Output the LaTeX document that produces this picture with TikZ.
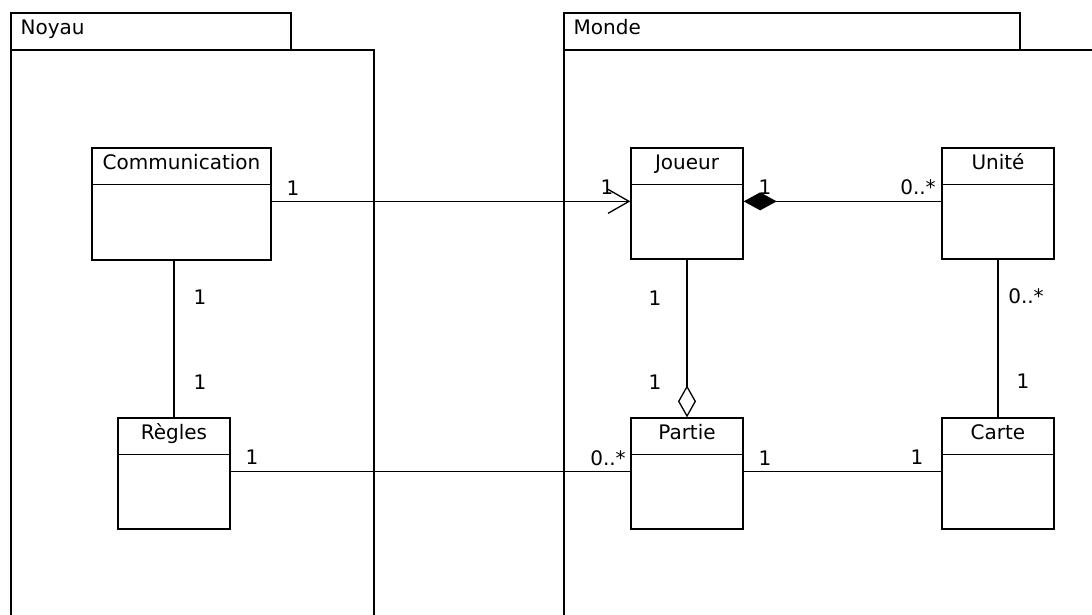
\documentclass[tikz,border=0pt]{standalone}
\usepackage{fontspec}
\setmainfont{DejaVu Sans}
\usetikzlibrary{arrows.meta}
\begin{document}
\begin{tikzpicture}[x=1pt,y=-1pt,line width=1.3pt,
  cls/.style={draw, rectangle, inner sep=0pt, minimum width=112pt, minimum height=111pt},
  lbl/.style={inner sep=0pt, font=\fontsize{20}{24}\selectfont},
  ttl/.style={inner sep=0pt, anchor=base, font=\fontsize{20}{24}\selectfont},
  open arrow/.style={-{Straight Barb[length=21pt,width=24pt]}},
  composition/.style={-{Diamond[length=33pt,width=18pt]}},
  aggregation/.style={-{Diamond[open,length=32pt,width=18pt]}}]
\path[use as bounding box] (0,0) rectangle (1092,614);
\clip (0,0) rectangle (1092,614);
% packages
\draw (11,13) rectangle (291,50);
\draw (11,50) rectangle (374,640);
\node[ttl, anchor=base west] (noyau) at (20,34) {Noyau};
\draw (564,13) rectangle (1020,50);
\draw (564,50) rectangle (1120,640);
\node[ttl, anchor=base west] (monde) at (573,34) {Monde};
% classes
\node[cls, minimum width=179pt, minimum height=112pt] (comm) at (181.5,204) {};
\node[cls] (regles) at (174,473.5) {};
\node[cls] (joueur) at (687,203.5) {};
\node[cls] (unite) at (998,203.5) {};
\node[cls] (partie) at (687,473.5) {};
\node[cls] (carte) at (998,473.5) {};
\foreach \c/\t in {comm/Communication, regles/Règles, joueur/Joueur, unite/Unité, partie/Partie, carte/Carte}{
  \draw ([yshift=-37pt]\c.north west) -- ([yshift=-37pt]\c.north east);
  \node[ttl] (t\c) at ([yshift=-22pt]\c.north) {\t};
}
% connectors
\draw[open arrow] ([yshift=-54pt]comm.north east) -- ([yshift=-54pt]joueur.north west);
\draw[composition] ([yshift=-54pt]unite.north west) -- ([yshift=-54pt]joueur.north east);
\draw[aggregation] (joueur.south) -- (partie.north);
\draw (comm.south -| regles.north) -- (regles.north);
\draw ([yshift=-54pt]regles.north east) -- ([yshift=-54pt]partie.north west);
\draw ([yshift=-54pt]partie.north east) -- ([yshift=-54pt]carte.north west);
\draw (unite.south) -- (carte.north);
% multiplicities
\node[lbl] (m1) at (293,188) {1};
\node[lbl] (m2) at (607,187) {1};
\node[lbl] (m3) at (765,187) {1};
\node[lbl] (m4) at (918,187) {0..*};
\node[lbl] (m5) at (200,297) {1};
\node[lbl] (m6) at (200,382) {1};
\node[lbl] (m7) at (655,298) {1};
\node[lbl] (m8) at (655,382) {1};
\node[lbl] (m9) at (1026,296) {0..*};
\node[lbl] (m10) at (1023,381) {1};
\node[lbl] (m11) at (252,457) {1};
\node[lbl] (m12) at (608,458) {0..*};
\node[lbl] (m13) at (765,458) {1};
\node[lbl] (m14) at (917,457) {1};
\end{tikzpicture}
\end{document}
